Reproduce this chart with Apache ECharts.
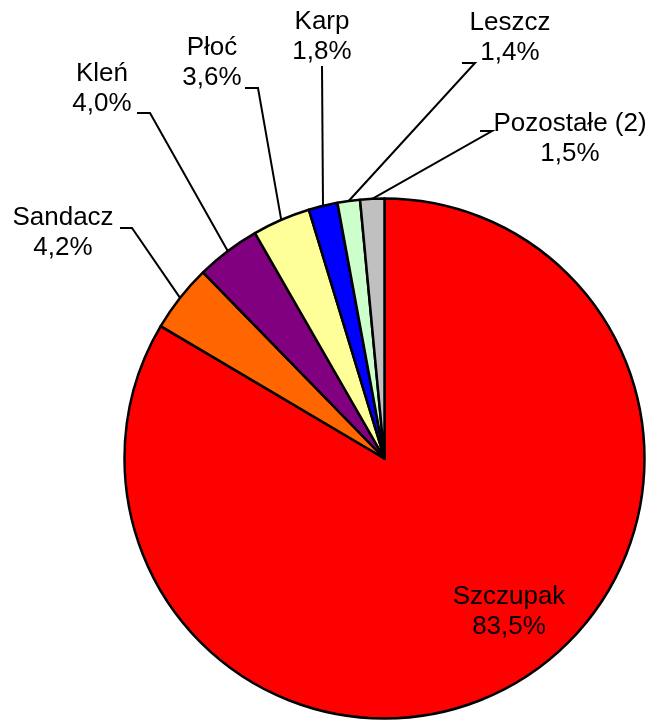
<!DOCTYPE html>
<html>
<head>
<meta charset="utf-8">
<script src="https://cdn.jsdelivr.net/npm/echarts@6/dist/echarts.min.js"></script>
<style>
  html, body { margin: 0; padding: 0; background: #fff; }
  #chart { width: 656px; height: 722px; }
</style>
</head>
<body>
<div id="chart"></div>
<script>
// kolejność zgodnie z ruchem wskazówek zegara od godz. 12
const species = ['Szczupak', 'Sandacz', 'Kleń', 'Płoć', 'Karp', 'Leszcz', 'Pozostałe (2)']
const shares = [83.5, 4.2, 4.0, 3.6, 1.8, 1.4, 1.5]
const colors = ['#ff0000', '#ff6600', '#800080', '#ffff99', '#0000ff', '#ccffcc', '#c0c0c0']

// pozycje etykiet: [x, y, stub x, stub y, koniec x]
const labelPos = [
  [509, 612],
  [63, 233, 132, 228, 120],
  [102, 89, 150, 113, 137],
  [212, 63, 258, 88, 245],
  [322, 37, 322, 66, 322],
  [510, 38, 475, 63, 462],
  [570, 139, 492, 131, 480]
]

const fmt = v => v.toFixed(1).replace('.', ',') + '%'

const chart = echarts.init(document.getElementById('chart'))
chart.setOption({
  backgroundColor: '#fff',
  animation: false,
  series: [{
    type: 'pie',
    center: [384.5, 458.5],
    radius: 260,
    startAngle: 90,
    clockwise: true,
    avoidLabelOverlap: false,
    itemStyle: { borderColor: '#000', borderWidth: 2.5 },
    label: {
      show: true,
      position: 'outside',
      color: '#000',
      fontSize: 26,
      lineHeight: 30,
      fontFamily: '"Liberation Sans", Arial, sans-serif',
      formatter: p => p.name + '\n' + fmt(p.value)
    },
    labelLine: {
      show: true,
      length: 10,
      length2: 10,
      lineStyle: { color: '#000', width: 2 }
    },
    labelLayout: params => {
      const pos = labelPos[params.dataIndex]
      const out = { x: pos[0], y: pos[1], align: 'center', verticalAlign: 'middle' }
      if (pos.length > 2 && params.labelLinePoints) {
        const start = params.labelLinePoints[0]
        out.labelLinePoints = [start, [pos[2], pos[3]], [pos[4], pos[3]]]
      }
      return out
    },
    emphasis: { disabled: true },
    data: species.map((name, i) => ({
      name,
      value: shares[i],
      itemStyle: { color: colors[i] },
      label: i === 0 ? { position: 'inside' } : undefined,
      labelLine: i === 0 ? { show: false } : undefined
    }))
  }]
})
</script>
</body>
</html>
